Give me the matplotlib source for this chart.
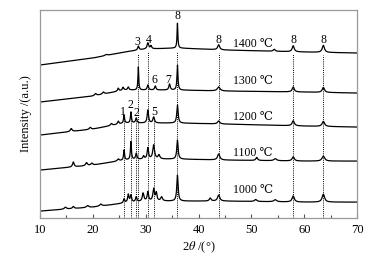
import numpy as np
import matplotlib
matplotlib.use("Agg")
import matplotlib.pyplot as plt
from matplotlib.ticker import MultipleLocator

plt.rcParams['font.family'] = ['Liberation Serif', 'DejaVu Serif']
plt.rcParams['mathtext.fontset'] = 'stix'

# ---- data (2theta in degrees, intensity in arbitrary offset units) ----
temperatures = ["1000 ℃", "1100 ℃", "1200 ℃", "1300 ℃", "1400 ℃"]

# baseline control points (2theta, intensity)
base_x = [10, 20, 26, 30, 36, 45, 60, 70]
base_1000 = [7, 11, 15, 17, 17, 17, 16, 16]
base_1100 = [48, 53, 58, 59, 59, 58, 57, 57]
base_1200 = [83, 89, 95, 95, 95, 94, 92, 91]
base_1300 = [116, 122, 128, 128, 128, 127, 126, 125]
base_1400 = [153, 160, 166, 169, 170, 168, 166, 165]

# peaks: (position, height, width)
peaks_1000 = [(14.8, 2, 0.5), (16.3, 2, 0.4), (19.0, 2, 0.5), (21.5, 2, 0.5),
              (25.9, 4, 0.3), (26.7, 8, 0.3), (27.2, 7, 0.3), (28.2, 5, 0.3),
              (29.5, 8, 0.35), (30.4, 9, 0.3), (31.5, 12, 0.35), (32.0, 8, 0.3),
              (33.0, 4, 0.4), (36.0, 26, 0.3), (42.2, 3, 0.4), (43.8, 6, 0.5),
              (50.8, 2, 0.5), (54.5, 2, 0.6), (57.9, 6, 0.5), (63.6, 8, 0.55)]
peaks_1100 = [(16.3, 5, 0.35), (18.8, 3, 0.4), (19.8, 2, 0.4), (24.8, 2, 0.4),
              (25.9, 10, 0.22), (27.2, 18, 0.22), (28.2, 6, 0.3), (29.6, 3, 0.3),
              (30.4, 11, 0.3), (31.5, 14, 0.4), (32.5, 4, 0.4), (36.0, 19, 0.3),
              (43.8, 6, 0.5), (51.0, 3, 0.4), (54.5, 2, 0.6), (57.9, 4, 0.5),
              (63.6, 5, 0.6)]
peaks_1200 = [(15.9, 3, 0.4), (19.5, 2, 0.4), (23.5, 2, 0.4), (24.8, 3, 0.3),
              (25.9, 8, 0.22), (27.2, 11, 0.22), (28.2, 5, 0.3), (30.4, 13, 0.3),
              (31.5, 6, 0.35), (36.0, 18, 0.3), (43.8, 3, 0.5), (57.9, 5, 0.5),
              (63.6, 5, 0.55)]
peaks_1300 = [(20.5, 2, 0.4), (22.0, 2, 0.4), (24.8, 3, 0.3), (25.7, 3, 0.3),
              (26.7, 3, 0.3), (28.6, 23, 0.18), (30.4, 5, 0.3), (31.8, 4, 0.3),
              (34.5, 6, 0.3), (36.0, 25, 0.22), (43.8, 4, 0.6), (57.9, 5, 0.45),
              (63.6, 5, 0.5)]
peaks_1400 = [(22.5, 1, 0.5), (28.6, 4, 0.3), (30.4, 6, 0.35), (31.0, 3, 0.3),
              (36.0, 25, 0.18), (43.8, 5, 0.45), (54.3, 2, 0.4), (57.9, 6, 0.45),
              (63.6, 7, 0.5)]

# reference lines: (position, top)
ref_pos = [25.9, 27.2, 28.2, 28.6, 30.4, 31.5, 36.0, 43.8, 57.9, 63.6]
ref_top = [101, 104, 99, 164, 166, 99, 166, 165, 164, 163]

# peak marker labels: (text, x, y)
mark_txt = ["8", "3", "4", "8", "8", "8", "6", "7", "1", "2", "2", "5"]
mark_x = [36.0, 28.5, 30.5, 43.8, 57.9, 63.6, 31.6, 34.3, 25.6, 27.2, 28.2, 31.6]
mark_y = [202, 176, 178, 178, 178, 178, 138, 138, 106, 113, 105, 106]

temp_y = [28, 65, 101, 137, 174]

# ---- drawing ----
fig = plt.figure(figsize=(3.74, 2.56), dpi=100)
ax = fig.add_axes([0.107, 0.148, 0.848, 0.813])

x = np.linspace(10, 70, 3000)

def profile(bx, by, peaks):
    y = np.interp(x, bx, by)
    for p, h, w in peaks:
        y = y + h / (1 + ((x - p) / (w / 2)) ** 2)
    return y

for by, pk in [(base_1000, peaks_1000), (base_1100, peaks_1100), (base_1200, peaks_1200),
               (base_1300, peaks_1300), (base_1400, peaks_1400)]:
    ax.plot(x, profile(base_x, by, pk), color='black', lw=0.9)

for p, t in zip(ref_pos, ref_top):
    ax.plot([p, p], [0, t], color='black', lw=0.7, ls=(0, (1, 1.2)))

for s, mx, my in zip(mark_txt, mark_x, mark_y):
    ax.text(mx, my, s, ha='center', va='center', fontsize=8.5)

for s, ty in zip(temperatures, temp_y):
    ax.text(46.6, ty, s, ha='left', va='center', fontsize=8.5)

ax.set_xlim(10, 70)
ax.set_ylim(0, 208)
ax.xaxis.set_major_locator(MultipleLocator(10))
ax.xaxis.set_minor_locator(MultipleLocator(5))
ax.tick_params(axis='x', which='major', direction='in', length=3, width=0.8,
               color='#555555', labelsize=9, pad=4)
ax.tick_params(axis='x', which='minor', direction='in', length=2, width=0.8, color='#555555')
ax.set_yticks([])
for sp in ax.spines.values():
    sp.set_color('#999999')
    sp.set_linewidth(0.9)

ax.set_xlabel(r'2$\it{\theta}$ /(°)', fontsize=9, labelpad=3)
ax.set_ylabel('Intensity /(a.u.)', fontsize=9, labelpad=6)

fig.savefig('out.png', dpi=100)
